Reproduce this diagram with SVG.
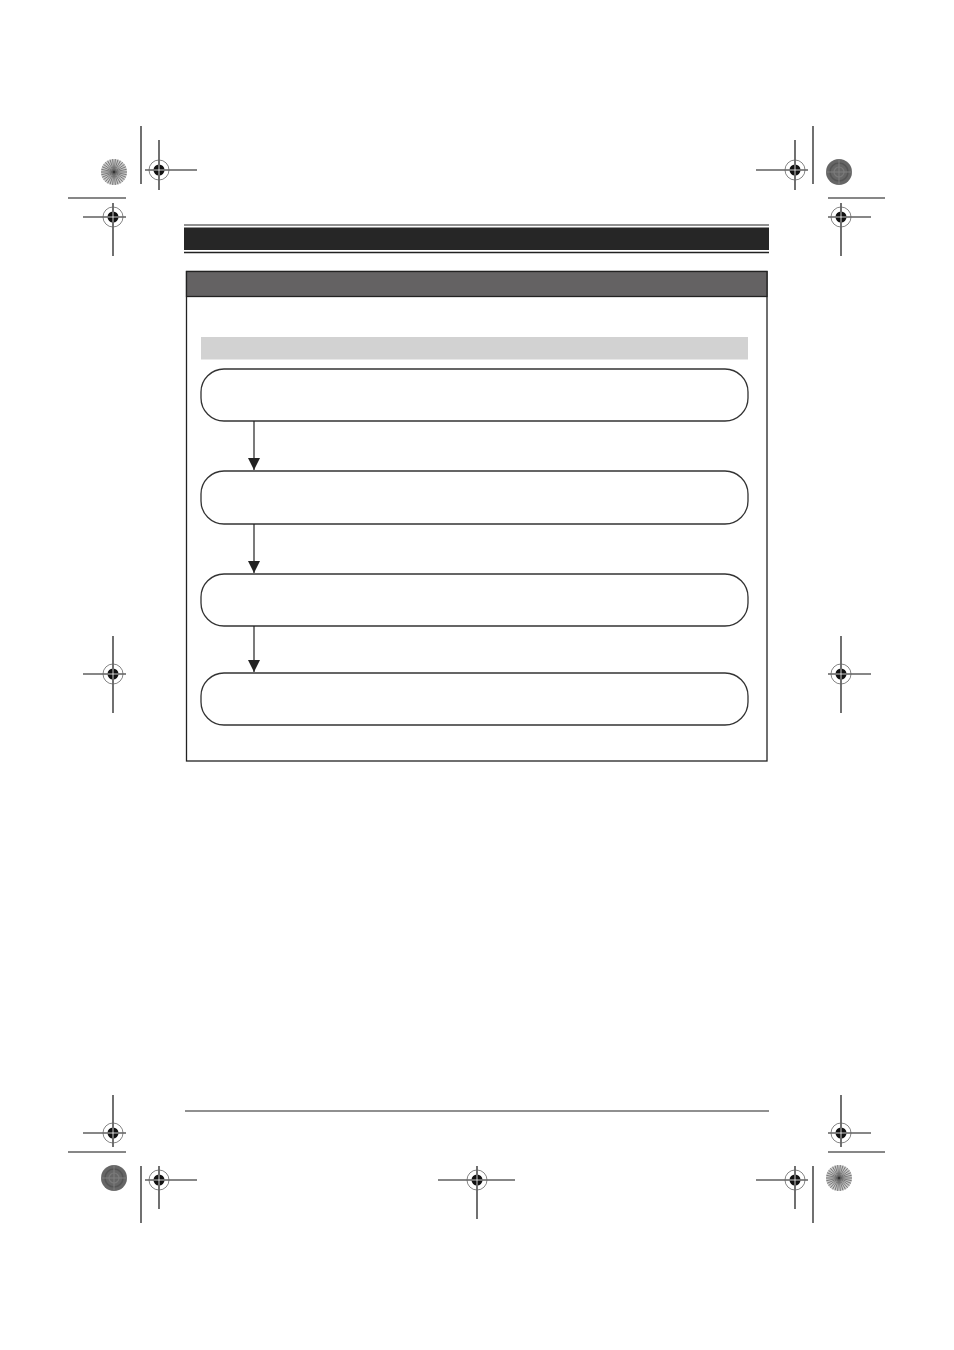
<svg xmlns="http://www.w3.org/2000/svg" xmlns:xlink="http://www.w3.org/1999/xlink" width="954" height="1350" viewBox="0 0 954 1350">
<style>
.ln{stroke:#111;stroke-width:1.2;fill:none}
.box{fill:#fff;stroke:#333;stroke-width:1.3}
.con{stroke:#222;stroke-width:1.2;fill:none}
</style>
<defs>
<marker id="ah" markerWidth="12" markerHeight="12" refX="12" refY="6" orient="auto" markerUnits="userSpaceOnUse" viewBox="0 0 12 12">
<path d="M0,0 L12,6 L0,12 Z" fill="#222"/>
</marker>
<g id="reg">
<circle r="10" fill="none" stroke="#666" stroke-width="0.8"/>
<circle r="5.5" fill="#111"/>
<path d="M-5.5,0H5.5M0,-5.5V5.5" stroke="#fff" stroke-width="0.8"/>
</g>
<g id="starL">
<circle r="13" fill="#c8c8c8"/>
<path d="M0,0L13,0M0,0L12.7,2.7M0,0L11.9,5.3M0,0L10.5,7.6M0,0L8.7,9.7M0,0L6.5,11.3M0,0L4,12.4M0,0L1.4,12.9M0,0L-1.4,12.9M0,0L-4,12.4M0,0L-6.5,11.3M0,0L-8.7,9.7M0,0L-10.5,7.6M0,0L-11.9,5.3M0,0L-12.7,2.7M0,0L-13,0M0,0L-12.7,-2.7M0,0L-11.9,-5.3M0,0L-10.5,-7.6M0,0L-8.7,-9.7M0,0L-6.5,-11.3M0,0L-4,-12.4M0,0L-1.4,-12.9M0,0L1.4,-12.9M0,0L4,-12.4M0,0L6.5,-11.3M0,0L8.7,-9.7M0,0L10.5,-7.6M0,0L11.9,-5.3M0,0L12.7,-2.7" stroke="#555" stroke-width="0.7"/>
<circle r="1.2" fill="#333"/>
</g>
<g id="starD">
<circle r="13" fill="#666"/>
<circle r="9" fill="none" stroke="#555" stroke-width="1.5"/>
<circle r="5" fill="none" stroke="#7a7a7a" stroke-width="1.2"/>
<path d="M-13,0H13M0,-13V13" stroke="#7e7e7e" stroke-width="1"/>
</g>
</defs>

<g id="registration">
<!-- top left -->
<use xlink:href="#starL" x="114" y="172"/>
<line class="ln" x1="141" y1="126" x2="141" y2="184"/>
<line class="ln" x1="145" y1="170" x2="197" y2="170"/>
<line class="ln" x1="159" y1="140" x2="159" y2="190"/>
<use xlink:href="#reg" x="159" y="170"/>
<line class="ln" x1="68" y1="198" x2="126" y2="198"/>
<line class="ln" x1="83" y1="217" x2="126" y2="217"/>
<line class="ln" x1="113" y1="203" x2="113" y2="256"/>
<use xlink:href="#reg" x="113" y="217"/>
<!-- top right -->
<use xlink:href="#starD" x="839" y="172"/>
<line class="ln" x1="813" y1="126" x2="813" y2="184"/>
<line class="ln" x1="756" y1="170" x2="808" y2="170"/>
<line class="ln" x1="795" y1="140" x2="795" y2="190"/>
<use xlink:href="#reg" x="795" y="170"/>
<line class="ln" x1="828" y1="198" x2="885" y2="198"/>
<line class="ln" x1="828" y1="217" x2="871" y2="217"/>
<line class="ln" x1="841" y1="203" x2="841" y2="256"/>
<use xlink:href="#reg" x="841" y="217"/>
<!-- middle -->
<line class="ln" x1="83" y1="674" x2="126" y2="674"/>
<line class="ln" x1="113" y1="636" x2="113" y2="713"/>
<use xlink:href="#reg" x="113" y="674"/>
<line class="ln" x1="828" y1="674" x2="871" y2="674"/>
<line class="ln" x1="841" y1="636" x2="841" y2="713"/>
<use xlink:href="#reg" x="841" y="674"/>
<!-- bottom left -->
<line class="ln" x1="83" y1="1133" x2="126" y2="1133"/>
<line class="ln" x1="113" y1="1095" x2="113" y2="1147"/>
<use xlink:href="#reg" x="113" y="1133"/>
<line class="ln" x1="68" y1="1152" x2="126" y2="1152"/>
<use xlink:href="#starD" x="114" y="1178"/>
<line class="ln" x1="141" y1="1166" x2="141" y2="1223"/>
<line class="ln" x1="145" y1="1180" x2="197" y2="1180"/>
<line class="ln" x1="159" y1="1166" x2="159" y2="1209"/>
<use xlink:href="#reg" x="159" y="1180"/>
<!-- bottom middle -->
<line class="ln" x1="438" y1="1180" x2="515" y2="1180"/>
<line class="ln" x1="477" y1="1166" x2="477" y2="1219"/>
<use xlink:href="#reg" x="477" y="1180"/>
<!-- bottom right -->
<line class="ln" x1="828" y1="1133" x2="871" y2="1133"/>
<line class="ln" x1="841" y1="1095" x2="841" y2="1147"/>
<use xlink:href="#reg" x="841" y="1133"/>
<line class="ln" x1="828" y1="1152" x2="885" y2="1152"/>
<use xlink:href="#starL" x="839" y="1178"/>
<line class="ln" x1="813" y1="1166" x2="813" y2="1223"/>
<line class="ln" x1="756" y1="1180" x2="808" y2="1180"/>
<line class="ln" x1="795" y1="1166" x2="795" y2="1209"/>
<use xlink:href="#reg" x="795" y="1180"/>
</g>

<g id="page-header">
<line x1="184" y1="225" x2="769" y2="225" stroke="#222" stroke-width="1"/>
<rect x="184" y="227.5" width="585" height="22.5" fill="#262626"/>
<line x1="184" y1="252.5" x2="769" y2="252.5" stroke="#222" stroke-width="1.3"/>
</g>

<g id="footer-rule">
<line x1="185" y1="1111" x2="769" y2="1111" stroke="#222" stroke-width="1.2"/>
</g>

<g id="panel">
<rect x="186.5" y="271.5" width="580.5" height="489.5" fill="#fff" stroke="#222" stroke-width="1.3"/>
<rect x="186.5" y="271.5" width="580.5" height="25" fill="#646263" stroke="#222" stroke-width="1.3"/>
</g>

<g id="band">
<rect x="201" y="337" width="547" height="22.5" fill="#d2d2d2"/>
</g>

<g id="node1"><rect class="box" x="201" y="369" width="547" height="52" rx="23" ry="23"/></g>
<g id="node2"><rect class="box" x="201" y="471" width="547" height="53" rx="23" ry="23"/></g>
<g id="node3"><rect class="box" x="201" y="574" width="547" height="52" rx="23" ry="23"/></g>
<g id="node4"><rect class="box" x="201" y="673" width="547" height="52" rx="23" ry="23"/></g>

<g id="connectors">
<line class="con" x1="254" y1="421" x2="254" y2="470" marker-end="url(#ah)"/>
<line class="con" x1="254" y1="524" x2="254" y2="573" marker-end="url(#ah)"/>
<line class="con" x1="254" y1="626" x2="254" y2="672" marker-end="url(#ah)"/>
</g>
</svg>
